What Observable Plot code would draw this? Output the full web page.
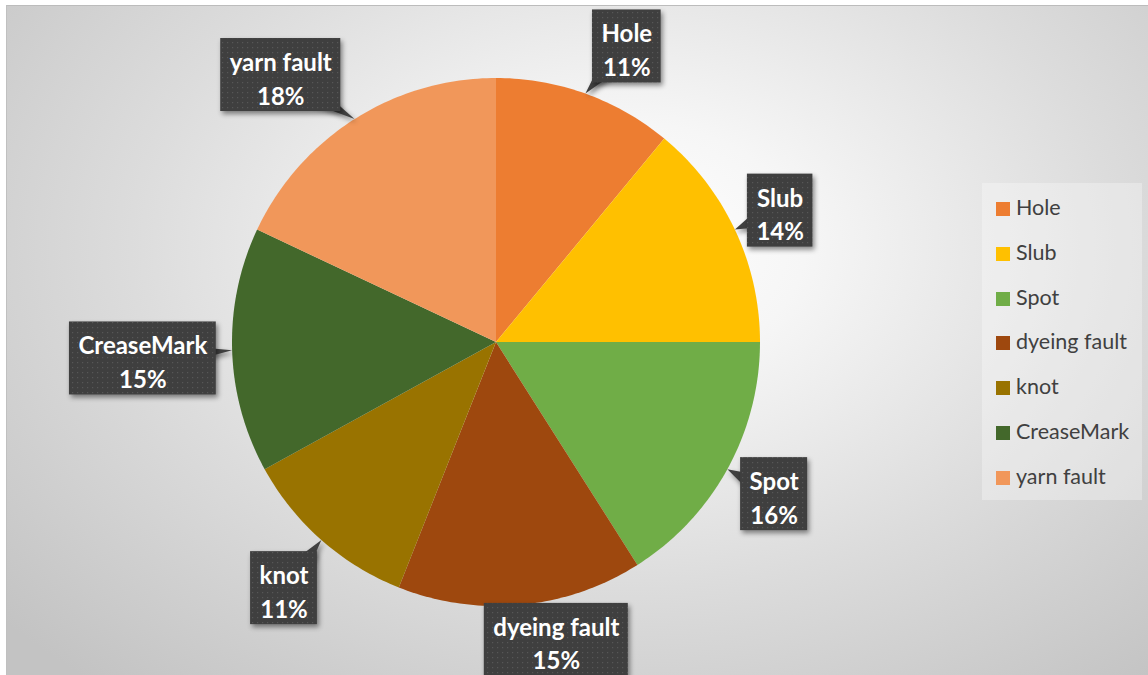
<!DOCTYPE html>
<html><head><meta charset="utf-8">
<script src="https://cdn.jsdelivr.net/npm/d3@7"></script>
<script src="https://cdn.jsdelivr.net/npm/@observablehq/plot@0.6"></script>
<style>
body{margin:0;background:#fff;}
#wrap{position:relative;width:1148px;height:675px;overflow:hidden;font-family:Lato,"Open Sans",sans-serif;}
#bg{position:absolute;left:6px;top:5px;width:1142px;height:670px;
  background:radial-gradient(ellipse 72% 85% at 54% 36%, #ffffff 0%, #f6f6f6 22%, #dcdcdc 60%, #c3c3c3 100%);
  border-top:1px solid #bcbcbc;border-left:1px solid #c0c0c0;}
#chart{position:absolute;left:0;top:0;}
#legend{position:absolute;left:982px;top:183px;width:160px;height:317px;background:rgba(255,255,255,0.3);}
.item{position:absolute;left:14px;height:22px;font-size:21.5px;color:#404040;white-space:nowrap;line-height:22px;}
.sw{display:inline-block;width:14px;height:14px;margin-right:6px;vertical-align:-1px;}
</style></head>
<body>
<div id="wrap"><div id="bg"></div><div id="chart"></div><div id="legend"></div></div>
<script>
// ---- data ----
const categories = ["Hole","Slub","Spot","dyeing fault","knot","CreaseMark","yarn fault"];
const shares = [11,14,16,15,11,15,18];
const colors = ["#ED7D31","#FFC000","#70AD47","#9E480E","#997300","#43682B","#F1975A"];
// ---- layout (pixel nudges for the data labels) ----
const labelNudge = [[23,2],[-3,3],[0,-1],[30,-18],[-3,8],[-37,6],[-46,0]];

const total = d3.sum(shares);
const PX = 264, CX = 496, CY = 342;
let acc = 0;
const slices = categories.map((name,i)=>{const s=acc/total; acc+=shares[i]; const e=acc/total; return {name, share:shares[i], s, e, m:(s+e)/2};});
const arcRows = slices.flatMap(sl=>{
  const n = Math.max(2, Math.ceil((sl.e-sl.s)*360));
  return d3.range(n+1).map(k=>{const a=2*Math.PI*(sl.s+(sl.e-sl.s)*k/n); return {name:sl.name, x:Math.sin(a), y:Math.cos(a)};});
});

const FS = 24;
const ctx = document.createElement("canvas").getContext("2d");
ctx.font = `bold ${FS}px Lato`;
const labels = slices.map((sl,i)=>{
  const a = 2*Math.PI*sl.m, r = 1.2;
  const pct = Math.round(sl.share/total*100)+"%";
  const cx = Math.sin(a)*r + labelNudge[i][0]/PX;
  const cy = Math.cos(a)*r - labelNudge[i][1]/PX;
  const w = (Math.max(ctx.measureText(sl.name).width, ctx.measureText(pct).width)+18)/PX;
  const h = 73/PX;
  return {name:sl.name, text:sl.name+"\n"+pct, cx, cy, x1:cx-w/2, x2:cx+w/2, y1:cy-h/2, y2:cy+h/2, tx:Math.sin(a), ty:Math.cos(a)};
});
const pointers = labels.flatMap(l=>{
  const dx=l.tx-l.cx, dy=l.ty-l.cy, len=Math.hypot(dx,dy), hw=16/PX;
  const px=-dy/len*hw, py=dx/len*hw;
  return [{name:l.name, x1:l.cx+px, y1:l.cy+py, x2:l.cx-px, y2:l.cy-py},
          {name:l.name, x1:l.tx, y1:l.ty, x2:l.tx, y2:l.ty}];
});

const chart = Plot.plot({
  width:1148, height:675, margin:0,
  x:{domain:[-1,1], range:[CX-PX, CX+PX], axis:null},
  y:{domain:[-1,1], range:[CY+PX, CY-PX], axis:null},
  color:{domain:categories, range:colors},
  style:{background:"transparent", overflow:"visible"},
  marks:[
    Plot.area(arcRows, {x1:()=>0, y1:()=>0, x2:"x", y2:"y", z:"name", fill:"name"}),
    Plot.area(pointers, {x1:"x1", y1:"y1", x2:"x2", y2:"y2", z:"name", fill:"#404040"}),
    Plot.rect(labels, {x1:"x1", x2:"x2", y1:"y1", y2:"y2", fill:"url(#dots)"}),
    Plot.text(labels, {x:"cx", y:"cy", text:"text", fill:"white", fontWeight:"bold", fontSize:FS, fontFamily:"Lato", lineHeight:1.4, dy:2})
  ]
});
const defs = d3.select(chart).insert("defs", ":first-child");
const pat = defs.append("pattern").attr("id","dots").attr("width",5).attr("height",5).attr("patternUnits","userSpaceOnUse");
pat.append("rect").attr("width",5).attr("height",5).attr("fill","#3f3f3f");
pat.append("rect").attr("x",2).attr("y",2).attr("width",1.2).attr("height",1.2).attr("fill","#575757");
const groups = chart.querySelectorAll(":scope > g");
[groups[1], groups[2]].forEach(g=>g && g.setAttribute("style","filter:drop-shadow(2px 3px 2.5px rgba(0,0,0,0.45))"));
document.getElementById("chart").appendChild(chart);

const leg = document.getElementById("legend");
categories.forEach((c,i)=>{
  const d=document.createElement("div"); d.className="item";
  d.style.top=(13+i*44.8)+"px";
  d.innerHTML=`<span class="sw" style="background:${colors[i]}"></span>${c}`;
  leg.appendChild(d);
});
</script>
</body></html>
